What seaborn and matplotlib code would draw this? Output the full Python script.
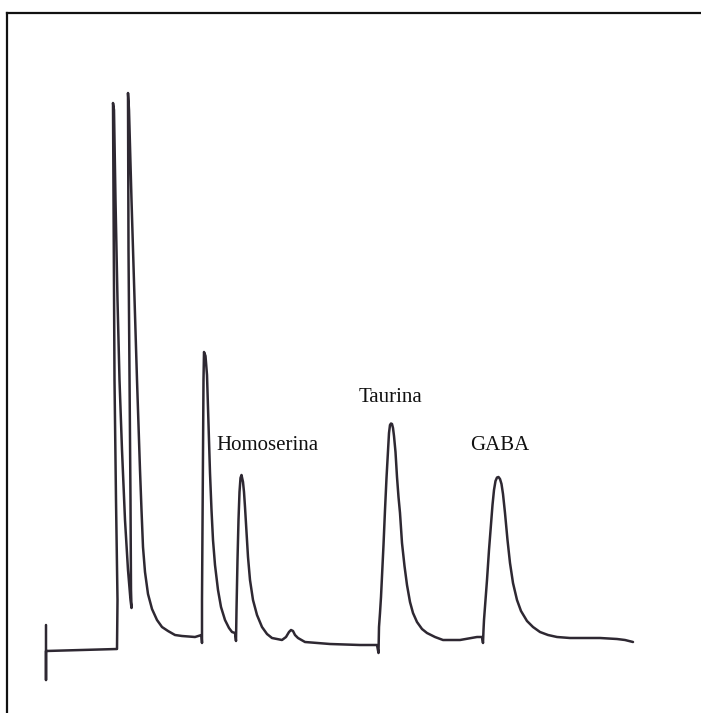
import matplotlib
matplotlib.use("Agg")
import matplotlib.pyplot as plt
import seaborn as sns
import pandas as pd

trace_x = [46, 46, 46, 80, 117,
           117.5, 116, 114.5, 113.5, 113, 113,
           114, 115.5, 117.5, 119.5, 122, 125, 128, 130.5, 131.5,
           131, 130.5, 129.5, 128.5, 128, 128,
           129, 131.5, 134.5, 137, 140, 141.5, 143, 145, 148, 152, 157, 162, 168,
           175, 182, 195, 201.5,
           202, 202, 203, 203.5, 204, 205.5, 207, 208, 209, 210, 211.5, 213, 215,
           218, 221, 225, 229, 232, 235,
           236, 236.5, 237.5, 238.5, 239.5, 240.5, 241.5, 243, 244, 245, 246.5,
           248, 250, 253, 257, 262, 267, 272, 282, 286, 289, 291, 293, 295, 298,
           305, 330, 360, 377,
           378.5, 379, 380, 381, 382, 383.5, 385, 386.5, 388, 389, 390, 391, 392,
           393, 394, 395.5, 397, 398.5, 400, 402, 404.5, 407, 410, 413, 417, 422,
           427, 435, 443, 460, 477, 482,
           483, 483.5, 484, 485.5, 487, 489, 491, 492.5, 494, 495.5, 497, 498.5,
           500, 501.5, 503, 505, 507.5, 510, 513, 517, 521, 527, 533, 540, 548,
           557, 570, 583, 600, 617, 625, 633]
trace_y = [88, 33, 62, 63, 64,
           113, 213, 333, 513, 603, 610,
           603, 513, 413, 333, 263, 193, 143, 113, 105,
           123, 213, 333, 463, 593, 620,
           603, 513, 413, 333, 243, 203, 166, 141, 119, 104, 93, 86, 82,
           78, 77, 76, 78,
           70, 113, 263, 333, 361, 357, 338, 306, 273, 240, 203, 173, 148,
           123, 106, 93, 85, 81, 80,
           72, 103, 153, 193, 221, 235, 238, 231, 221, 206, 181,
           156, 133, 113, 98, 86, 79, 75, 73, 76, 81, 83, 82, 78, 75,
           71, 69, 68, 68,
           60, 86, 100, 116, 136, 168, 203, 235, 263, 280, 288, 289.5, 289,
           285, 277, 261, 236, 216, 200, 170, 147, 128, 111, 100, 91, 84,
           80, 76, 73, 73, 76, 76,
           70, 83, 93, 113, 133, 163, 188, 208, 223, 232, 235.5, 236,
           234, 229, 219, 200, 173, 150, 130, 113, 102, 92, 86, 81, 78,
           76, 75, 75, 75, 74, 73, 71]

peak_names = ["Homoserina", "Taurina", "GABA"]

df = pd.DataFrame({"t": trace_x, "signal": trace_y})

sns.set_style("white")
plt.rcParams["font.family"] = ["Liberation Serif", "DejaVu Serif"]

fig = plt.figure(figsize=(7.01, 7.13), dpi=100)
W, H = 701, 713
ax = fig.add_axes([7 / W, -5 / H, (712 - 7) / W, (713 - 12.5 + 5) / H])
ax.set_xlim(7, 712)
ax.set_ylim(-5, 700.5)

sns.lineplot(data=df, x="t", y="signal", sort=False, estimator=None,
             color="#2e2832", linewidth=1.8, ax=ax,
             solid_joinstyle="round", solid_capstyle="round")

label_pos = [(216, 713 - 445), (359, 713 - 397), (470, 713 - 446)]
for name, (lx, ly) in zip(peak_names, label_pos):
    ax.text(lx, ly, name, fontsize=15, color="#111111", ha="left", va="center")

ax.set_xticks([])
ax.set_yticks([])
ax.set_xlabel("")
ax.set_ylabel("")
for s in ax.spines.values():
    s.set_color("#111111")
    s.set_linewidth(1.6)
    s.set_visible(True)

fig.savefig("out.png", dpi=100, facecolor="white")
